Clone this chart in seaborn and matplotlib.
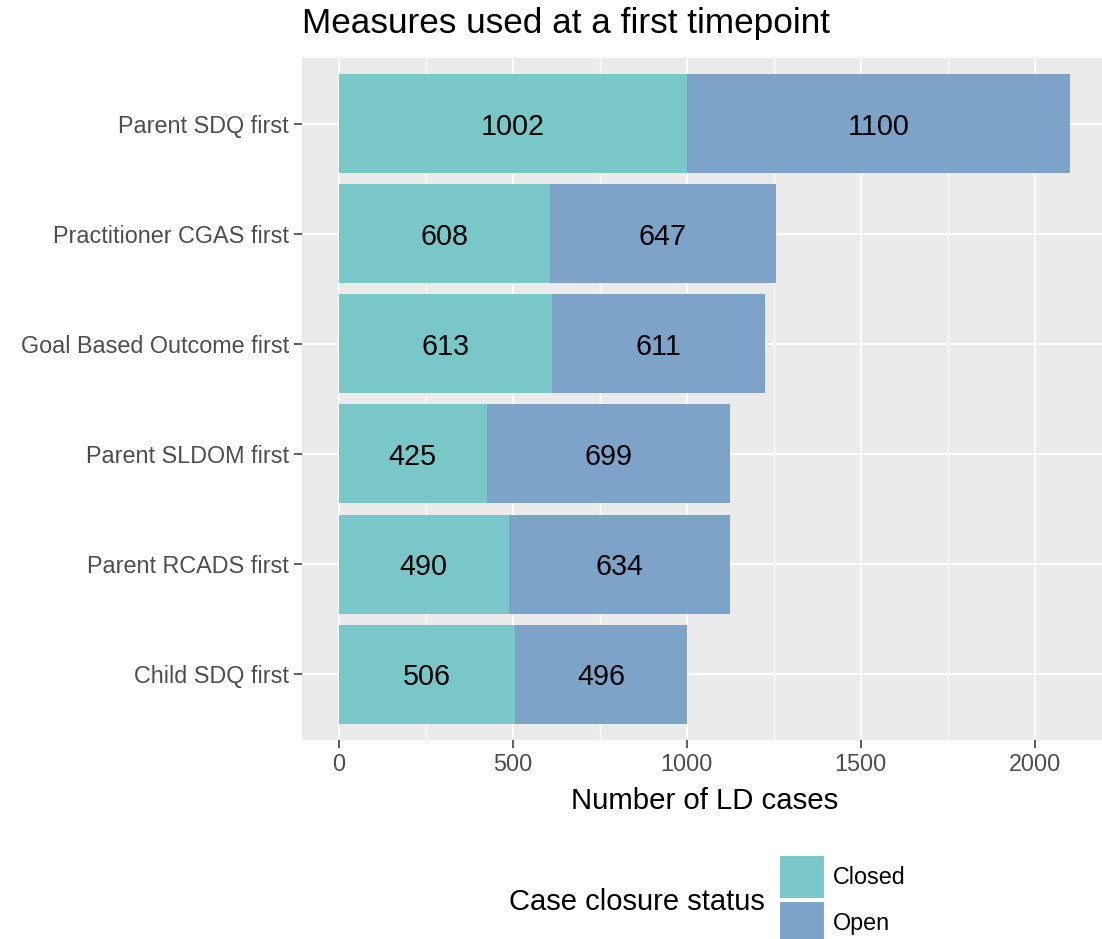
import matplotlib
matplotlib.use("Agg")
import matplotlib.pyplot as plt
import seaborn as sns
import pandas as pd
from matplotlib.patches import Patch

categories = ["Parent SDQ first", "Practitioner CGAS first", "Goal Based Outcome first",
              "Parent SLDOM first", "Parent RCADS first", "Child SDQ first"]
closed = [1002, 608, 613, 425, 490, 506]
open_ = [1100, 647, 611, 699, 634, 496]
xticks = [0, 500, 1000, 1500, 2000]

c_closed = "#7AC7C9"
c_open = "#7DA3C8"

df = pd.DataFrame({"measure": categories, "Closed": closed, "Open": open_})
df["Total"] = df["Closed"] + df["Open"]

sns.set_theme(style="darkgrid")
plt.rcParams['font.family'] = ['Arial', 'Liberation Sans', 'DejaVu Sans']

W, H = 1102, 939
fig = plt.figure(figsize=(W/100, H/100), dpi=100)
ax = fig.add_axes([302/W, 1-740/H, (1107-302)/W, (740-58)/H])
ax.set_facecolor("#EBEBEB")

sns.barplot(data=df, y="measure", x="Total", orient="h", color=c_open, width=0.9,
            saturation=1, ax=ax, order=categories)
sns.barplot(data=df, y="measure", x="Closed", orient="h", color=c_closed, width=0.9,
            saturation=1, ax=ax, order=categories)
for p in ax.patches:
    p.set_edgecolor("none")
    p.set_linewidth(0)

for i, (c, o) in enumerate(zip(closed, open_)):
    ax.text(c/2, i, str(c), ha="center", va="center_baseline", fontsize=20.7, color="black")
    ax.text(c + o/2, i, str(o), ha="center", va="center_baseline", fontsize=20.7, color="black")

ax.set_xlim(-105, 2207)
ax.set_ylim(5.6, -0.6)
ax.set_xticks(xticks)
ax.set_xticks([250, 750, 1250, 1750], minor=True)
ax.grid(True, which="major", color="white", linewidth=1.4)
ax.grid(True, which="minor", axis="x", color="white", linewidth=1.0)
ax.set_axisbelow(True)
for s in ax.spines.values():
    s.set_visible(False)
ax.tick_params(axis="both", which="major", length=5.5, width=1.1, color="#333333",
               labelsize=16.8, labelcolor="#4D4D4D", pad=4, direction="out")
ax.tick_params(which="minor", length=0)
ax.tick_params(axis="x", bottom=True)
ax.tick_params(axis="y", left=True)
ax.set_ylabel("")
ax.set_xlabel("Number of LD cases", fontsize=21.2, color="black", labelpad=8)

fig.text(302/W, 1-24/H, "Measures used at a first timepoint", fontsize=25.3,
         ha="left", va="center", color="black")

handles = [Patch(facecolor=c_closed, edgecolor="white", linewidth=1.5, label="Closed"),
           Patch(facecolor=c_open, edgecolor="white", linewidth=1.5, label="Open")]
leg = fig.legend(handles=handles, loc="center left", bbox_to_anchor=(779/W, 1-900/H),
                 frameon=False, fontsize=16.8, handlelength=1.95, handleheight=2.5,
                 handletextpad=0.35, labelspacing=0.1, borderpad=0, borderaxespad=0)
for t in leg.get_texts():
    t.set_color("black")
fig.text(765/W, 1-902/H, "Case closure status", fontsize=21, ha="right", va="center",
         color="black")

fig.savefig("out.png", dpi=100, facecolor="white")
